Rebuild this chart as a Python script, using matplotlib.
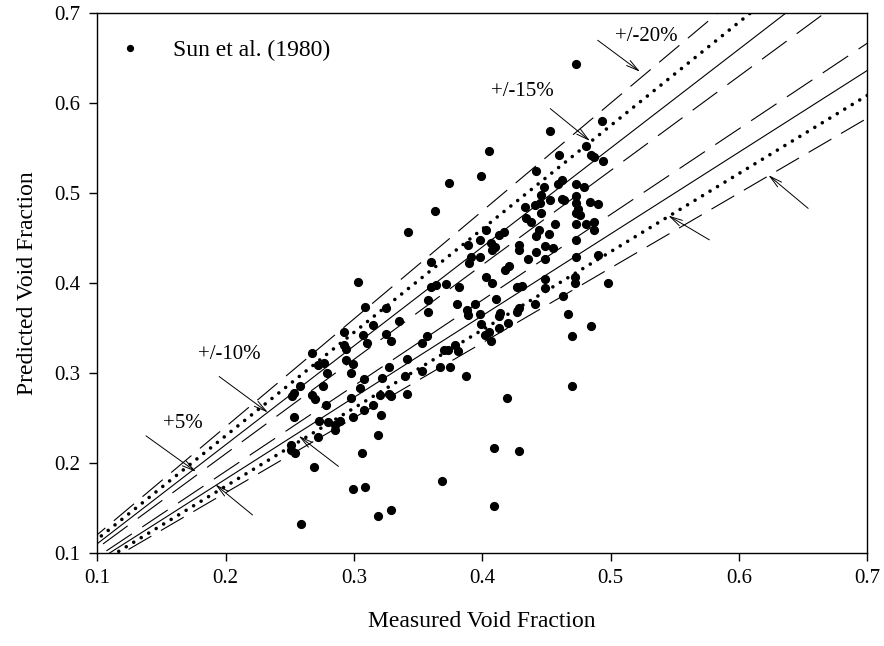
import matplotlib
matplotlib.use("Agg")
import matplotlib.pyplot as plt
import numpy as np

plt.rcParams['font.family'] = ['Liberation Serif', 'DejaVu Serif']
plt.rcParams['lines.scale_dashes'] = False

# Sun et al. (1980) data: measured vs predicted void fraction
measured = [
    0.259, 0.299, 0.309, 0.319, 0.329, 0.269, 0.306, 0.319, 0.321,
    0.251, 0.254, 0.251, 0.272, 0.285, 0.289, 0.280, 0.273, 0.299, 0.308, 0.315,
    0.298, 0.305, 0.320, 0.329, 0.327, 0.341, 0.322, 0.340, 0.308, 0.327, 0.341,
    0.353, 0.353, 0.357, 0.278, 0.270, 0.267, 0.253, 0.276, 0.258, 0.252, 0.298,
    0.294, 0.299, 0.279, 0.272, 0.277, 0.267, 0.294, 0.292, 0.292, 0.310, 0.307,
    0.315, 0.309, 0.325, 0.325, 0.329, 0.335, 0.303, 0.358, 0.358, 0.285, 0.253,
    0.409, 0.369, 0.409, 0.429, 0.419, 0.470, 0.387, 0.470, 0.467, 0.463, 0.472,
    0.367, 0.375, 0.370, 0.373, 0.381, 0.379, 0.407, 0.402, 0.405, 0.413, 0.399,
    0.398, 0.420, 0.413, 0.414, 0.389, 0.388, 0.394, 0.411, 0.427, 0.429, 0.441,
    0.449, 0.427, 0.431, 0.380, 0.382, 0.372, 0.364, 0.360, 0.408,
    0.473, 0.453, 0.405, 0.399, 0.374, 0.363, 0.460, 0.462, 0.442, 0.448, 0.446,
    0.459, 0.462, 0.464, 0.473, 0.473, 0.473, 0.473, 0.453, 0.445, 0.441, 0.433,
    0.446, 0.457, 0.434, 0.438, 0.417, 0.413, 0.403, 0.398, 0.389, 0.407, 0.410,
    0.408, 0.444, 0.442, 0.452, 0.449, 0.455, 0.429, 0.429, 0.436, 0.442, 0.449,
    0.391, 0.398, 0.390, 0.360, 0.421, 0.418, 0.403, 0.473, 0.472, 0.449, 0.473,
    0.473, 0.342,
    0.493, 0.481, 0.487, 0.485, 0.494, 0.479, 0.475, 0.476, 0.484, 0.490, 0.481,
    0.487, 0.487, 0.490, 0.498, 0.485,
]
predicted = [
    0.132, 0.171, 0.173, 0.141, 0.147, 0.195, 0.211, 0.231, 0.253,
    0.220, 0.211, 0.214, 0.229, 0.236, 0.246, 0.245, 0.247, 0.251, 0.259, 0.264,
    0.272, 0.283, 0.275, 0.274, 0.277, 0.277, 0.294, 0.297, 0.293, 0.307, 0.315,
    0.302, 0.333, 0.341, 0.264, 0.271, 0.275, 0.251, 0.286, 0.286, 0.274, 0.300,
    0.314, 0.310, 0.300, 0.309, 0.311, 0.322, 0.327, 0.331, 0.345, 0.333, 0.342,
    0.353, 0.373, 0.372, 0.343, 0.336, 0.358, 0.401, 0.381, 0.368, 0.242, 0.278,
    0.152, 0.180, 0.216, 0.213, 0.272, 0.286, 0.297, 0.341, 0.366, 0.385, 0.400,
    0.307, 0.307, 0.325, 0.325, 0.324, 0.331, 0.336, 0.342, 0.346, 0.350, 0.354,
    0.365, 0.356, 0.363, 0.367, 0.364, 0.370, 0.377, 0.382, 0.368, 0.372, 0.377,
    0.394, 0.396, 0.397, 0.377, 0.396, 0.399, 0.398, 0.396, 0.400,
    0.644, 0.569, 0.547, 0.519, 0.511, 0.480, 0.542, 0.515, 0.525, 0.507, 0.498,
    0.510, 0.494, 0.492, 0.510, 0.497, 0.489, 0.478, 0.492, 0.489, 0.487, 0.485,
    0.478, 0.466, 0.472, 0.468, 0.457, 0.453, 0.459, 0.448, 0.442, 0.444, 0.440,
    0.437, 0.459, 0.452, 0.455, 0.441, 0.439, 0.442, 0.437, 0.427, 0.434, 0.427,
    0.429, 0.429, 0.422, 0.423, 0.419, 0.414, 0.407, 0.429, 0.407, 0.405, 0.448,
    0.466, 0.457,
    0.580, 0.552, 0.540, 0.542, 0.536, 0.507, 0.482, 0.476, 0.490, 0.488, 0.466,
    0.468, 0.459, 0.431, 0.400, 0.352,
]

# error bands: upper y=(1+p)x, lower y=x/(1+p)
bands = [0.05, 0.10, 0.15, 0.20]
xline = np.array([0.0, 0.8])

fig = plt.figure(figsize=(8.84, 6.46), dpi=100)
ax = fig.add_axes([0.110, 0.1444, 0.871, 0.835])

styles = {
    0.05: dict(linestyle=(0, (22, 9)), lw=0.8),
    0.10: dict(linestyle='-', lw=0.8),
    0.15: dict(linestyle=(0, (0.01, 6.3)), lw=2.6, dash_capstyle='round'),
    0.20: dict(linestyle=(0, (19, 8)), lw=0.8),
}
for p in bands:
    ax.plot(xline, xline * (1 + p), color='black', **styles[p])
    ax.plot(xline, xline / (1 + p), color='black', **styles[p])

ax.plot(measured, predicted, 'o', color='black', markersize=5.6,
        linestyle='none', label='Sun et al. (1980)')

ax.set_xlim(0.1, 0.7)
ax.set_ylim(0.1, 0.7)
ax.set_xticks([0.1, 0.2, 0.3, 0.4, 0.5, 0.6, 0.7])
ax.set_yticks([0.1, 0.2, 0.3, 0.4, 0.5, 0.6, 0.7])
ax.tick_params(direction='out', length=6, width=1, labelsize=15, pad=6)
for s in ax.spines.values():
    s.set_linewidth(1.0)

ax.set_xlabel('Measured Void Fraction', fontsize=17, labelpad=16)
ax.set_ylabel('Predicted Void Fraction', fontsize=17, labelpad=12)

ax.legend(loc='upper left', bbox_to_anchor=(0.0, 0.99), frameon=False,
          fontsize=17, handlelength=1.0, handletextpad=1.3, markerscale=0.75)

arrow = dict(arrowstyle='->,head_length=0.9,head_width=0.22', lw=0.7,
             color='black', shrinkA=0, shrinkB=0)
ax.annotate('', xy=(0.523, 0.635), xytext=(0.490, 0.670), arrowprops=arrow)
ax.text(0.528, 0.674, '+/-20%', fontsize=15, ha='center', va='center')
ax.annotate('', xy=(0.484, 0.558), xytext=(0.453, 0.594), arrowprops=arrow)
ax.text(0.431, 0.613, '+/-15%', fontsize=15, ha='center', va='center')
ax.annotate('', xy=(0.233, 0.256), xytext=(0.195, 0.296), arrowprops=arrow)
ax.text(0.203, 0.320, '+/-10%', fontsize=15, ha='center', va='center')
ax.annotate('', xy=(0.177, 0.190), xytext=(0.138, 0.230), arrowprops=arrow)
ax.text(0.167, 0.244, '+5%', fontsize=15, ha='center', va='center')
ax.annotate('', xy=(0.192, 0.176), xytext=(0.221, 0.142), arrowprops=arrow)
ax.annotate('', xy=(0.257, 0.230), xytext=(0.288, 0.196), arrowprops=arrow)
ax.annotate('', xy=(0.545, 0.475), xytext=(0.577, 0.448), arrowprops=arrow)
ax.annotate('', xy=(0.623, 0.520), xytext=(0.654, 0.483), arrowprops=arrow)

fig.savefig('out.png', dpi=100)
